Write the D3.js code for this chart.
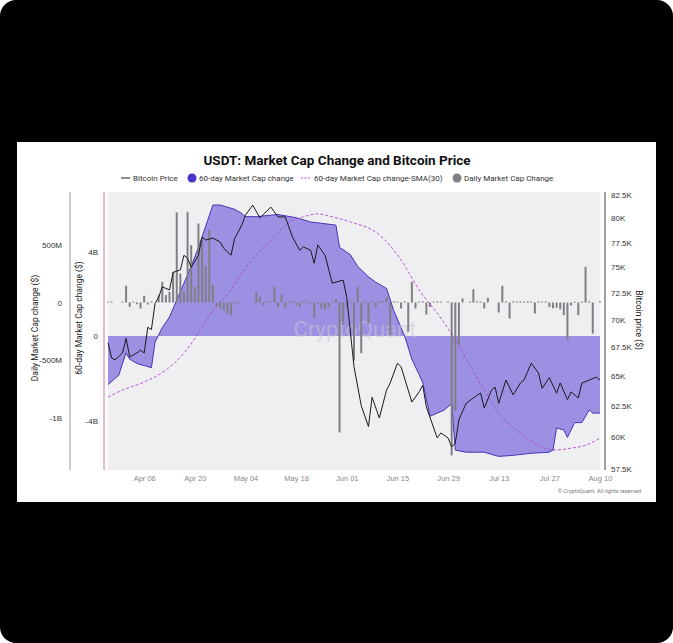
<!DOCTYPE html>
<html>
<head>
<meta charset="utf-8">
<script src="https://cdn.jsdelivr.net/npm/d3@7"></script>
<style>
  html, body { margin: 0; padding: 0; background: #fff; }
  #frame { position: absolute; left: 0; top: 0; width: 673px; height: 643px; background: #000; border-radius: 16px; overflow: hidden; }
  svg { position: absolute; left: 0; top: 0; font-family: Roboto, "Noto Sans", sans-serif; }
</style>
</head>
<body>
<div id="frame"></div>
<script>
// day offsets counted from the first day on the chart (Mar 27)
const startDate = "2024-03-27";

const priceDays = [0,1,2,4,5,6,8,9,10,11,12,13,14,15,17,18,20,21,22,23,25,26,27,29,31,32,34,35,37,38,40,42,45,47,49,51,53,54,56,57,58,60,62,65,66,68,70,72,73,75,77,78,80,81,84,86,87,88,91,92,94,95,96,97,99,101,103,104,106,107,108,110,112,114,115,117,119,120,122,124,125,127,128,130,131,133,135,136];
const priceK = [67.9,66.55,66.4,67.0,68.3,66.65,67.0,67.25,67.0,69.3,69.1,71.5,72.1,73.1,72.8,74.5,74.75,76.2,75.9,75.0,76.2,78.05,77.75,77.95,77.55,76.9,76.2,77.9,79.3,80.35,81.4,80.05,81.2,80.15,80.15,78.05,76.7,77.05,76.7,75.4,77.25,76.2,73.45,73.75,72.1,65.8,62.5,60.8,63.2,61.5,63.8,64.4,66.1,65.8,62.8,63.65,64.2,62.4,59.9,60.3,59.9,59.2,59.5,61.35,62.7,63.15,63.55,62.3,63.8,64.05,62.7,64.65,63.4,64.4,64.65,66.1,65.25,63.95,64.85,63.55,64.4,63.0,63.65,63.15,64.4,64.65,64.9,64.65];

const mcDays = [0,3,4,5,6,8,10,12,13,15,17,19,21,23,25,27,29,31,35,37,38,41,47,52,56,63,64,67,69,72,74,77,79,82,84,87,89,93,95,96,99,104,108,112,117,122,123,124,126,127,129,131,133,134,136];
const mc60B = [-2.3,-1.85,-1.3,-0.8,-1.1,-1.3,-1.4,-1.5,-0.3,0.4,0.9,1.7,2.5,3.3,4.2,5.2,6.2,6.2,6.0,5.8,5.65,5.65,5.75,5.6,5.4,5.25,4.2,3.85,3.3,2.8,2.55,2.25,1.2,0.0,-1.1,-2.2,-3.8,-3.5,-3.2,-5.4,-5.5,-5.5,-5.7,-5.65,-5.55,-5.5,-5.4,-4.35,-4.45,-4.8,-4.1,-4.1,-3.5,-3.65,-3.65];

const smaDays = [0,4,10,16,21,25,29,34,37,41,46,50,54,58,62,67,75,81,86,92,96,100,104,108,114,119,123,128,132,136];
const sma30B = [-2.89,-2.56,-2.18,-1.61,-0.81,0.14,1.23,2.18,2.99,3.84,4.69,5.36,5.64,5.78,5.64,5.40,4.79,3.60,2.18,0.85,-0.19,-1.37,-2.56,-3.65,-4.60,-5.17,-5.40,-5.31,-5.17,-4.83];

// daily market cap change, millions of $, one per day
const dailyM = [
  8, 8, 0, 0, 8, 145, -38, 8, -15, -52,
  58, -17, 10, 0, 64, 180, 64, 93, 267, 783,
  252, 93, 789, 499, 136, 687, 571, 319, 629, 151,
  -38, -52, -67, -96, -110, -20, 8, 0, 0, 0,
  0, 93, 50, -29, 10, 8, 137, -38, 70, -46,
  8, 10, -23, -38, 8, 10, -10, -133, -10, -52,
  -58, -38, 8, 29, -1130, -197, -30, 10, -505, 137,
  -441, 8, -183, 10, -38, 8, 10, 49, -284, 10,
  8, -52, 10, -255, 180, -52, 8, 10, -104, -38,
  8, 10, 8, 0, 8, -1330, -940, -371, 35, 0,
  8, 116, 10, 8, -52, 41, 0, 0, -87, 145,
  10, -139, 10, 8, 10, 8, 10, 8, -96, 10,
  8, 10, -40, -50, -45, -60, -110, -328, -25, 8,
  -110, 8, 310, 10, -270, 0, 10
];

const xTicks = ["2024-04-06","2024-04-20","2024-05-04","2024-05-18","2024-06-01","2024-06-15","2024-06-29","2024-07-13","2024-07-27","2024-08-10"];
const dailyTicks = [500, 0, -500, -1000];
const mcTicks = [4, 0, -4];
const priceTicks = [57.5, 60, 62.5, 65, 67.5, 70, 72.5, 75, 77.5, 80, 82.5];

const parse = d3.utcParse("%Y-%m-%d");
const t0 = parse(startDate);
const day = n => d3.utcDay.offset(t0, n);

const W = 673, H = 643;
const L = 108, R = 600, T = 192, B = 470;

const svg = d3.select("#frame").append("svg").attr("width", W).attr("height", H);

svg.append("rect").attr("x", 17).attr("y", 142).attr("width", 639).attr("height", 360).attr("fill", "#fff");
svg.append("rect").attr("x", L).attr("y", T).attr("width", R - L).attr("height", B - T).attr("fill", "#efeff2");

const x = d3.scaleUtc().domain([day(0), parse("2024-08-10")]).range([L, R]);
const yDaily = d3.scaleLinear().domain([-1000, 500]).range([417.5, 245]);
const yMc = d3.scaleLinear().domain([-4, 4]).range([420.5, 251.5]);
const yPrice = d3.scaleLog().domain([57.5, 82.5]).range([469, 195]);

// 60-day area
const mcData = mcDays.map((d, i) => ({ t: day(d), v: mc60B[i] }));
svg.append("path").datum(mcData)
  .attr("fill", "#9b90e2")
  .attr("d", d3.area().x(d => x(d.t)).y0(yMc(0)).y1(d => yMc(d.v)));
svg.append("path").datum(mcData)
  .attr("fill", "none").attr("stroke", "#4535b5").attr("stroke-width", 1)
  .attr("d", d3.line().x(d => x(d.t)).y(d => yMc(d.v)));

// watermark
svg.append("text").attr("x", 355).attr("y", 337).attr("text-anchor", "middle")
  .attr("font-size", 22).attr("fill", "#c8c8d4").attr("opacity", 0.55).text("CryptoQuant");

// daily bars
svg.append("g").selectAll("rect").data(dailyM).join("rect")
  .attr("x", (d, i) => x(day(i)) - 1)
  .attr("width", 2)
  .attr("y", d => Math.min(yDaily(d), yDaily(0)))
  .attr("height", d => Math.max(1, Math.abs(yDaily(d) - yDaily(0))))
  .attr("fill", "#7f7f85")
  .attr("opacity", d => d === 0 ? 0 : 1);

// SMA dashed
svg.append("path").datum(smaDays.map((d, i) => ({ t: day(d), v: sma30B[i] })))
  .attr("fill", "none").attr("stroke", "#b048c8").attr("stroke-width", 0.9)
  .attr("stroke-dasharray", "3,2")
  .attr("d", d3.line().curve(d3.curveMonotoneX).x(d => x(d.t)).y(d => yMc(d.v)));

// price line
svg.append("path").datum(priceDays.map((d, i) => ({ t: day(d), v: priceK[i] })))
  .attr("fill", "none").attr("stroke", "#1a1a1a").attr("stroke-width", 1)
  .attr("d", d3.line().x(d => x(d.t)).y(d => yPrice(d.v)));

// axes
const fmtDate = d3.utcFormat("%b %d");
const gx = svg.append("g").attr("transform", `translate(0,${B})`)
  .call(d3.axisBottom(x).tickValues(xTicks.map(parse)).tickFormat(fmtDate).tickSize(0).tickPadding(6));
gx.select(".domain").remove();
gx.selectAll("text").attr("font-size", 7.5).attr("fill", "#888");

const fmtDaily = v => v === 0 ? "0" : (Math.abs(v) >= 1000 ? (v / 1000) + "B" : v + "M");
const gd = svg.append("g").attr("transform", "translate(70,0)")
  .call(d3.axisLeft(yDaily).tickValues(dailyTicks).tickFormat(fmtDaily).tickSize(0).tickPadding(8));
gd.select(".domain").attr("d", `M0,${T}V${B}`).attr("stroke", "#999");
gd.selectAll("text").attr("font-size", 8).attr("fill", "#333");

const gm = svg.append("g").attr("transform", "translate(104,0)")
  .call(d3.axisLeft(yMc).tickValues(mcTicks).tickFormat(v => v === 0 ? "0" : v + "B").tickSize(0).tickPadding(6));
gm.select(".domain").attr("d", `M0,${T}V${B}`).attr("stroke", "#c07a96");
gm.selectAll("text").attr("font-size", 8).attr("fill", "#333");

const gp = svg.append("g").attr("transform", "translate(605,0)")
  .call(d3.axisRight(yPrice).tickValues(priceTicks).tickFormat(v => v + "K").tickSize(0).tickPadding(6));
gp.select(".domain").attr("d", `M0,${T}V${B}`).attr("stroke", "#444");
gp.selectAll("text").attr("font-size", 8).attr("fill", "#333");

// axis titles
svg.append("text").attr("transform", "translate(38,328) rotate(-90)").attr("text-anchor", "middle")
  .attr("font-size", 8.5).attr("fill", "#222").text("Daily Market Cap change ($)");
svg.append("text").attr("transform", "translate(82,318) rotate(-90)").attr("text-anchor", "middle")
  .attr("font-size", 8.5).attr("fill", "#222").text("60-day Market Cap change ($)");
svg.append("text").attr("transform", "translate(636,320) rotate(90)").attr("text-anchor", "middle")
  .attr("font-size", 8.5).attr("fill", "#222").text("Bitcoin price ($)");

// title
svg.append("text").attr("x", 337).attr("y", 165).attr("text-anchor", "middle")
  .attr("font-size", 13.5).attr("font-weight", "bold").attr("fill", "#111")
  .text("USDT: Market Cap Change and Bitcoin Price");

// legend
const lg = svg.append("g").attr("font-size", 8).attr("fill", "#333");
lg.append("line").attr("x1", 121).attr("x2", 130).attr("y1", 178).attr("y2", 178).attr("stroke", "#222");
lg.append("text").attr("x", 133).attr("y", 181).text("Bitcoin Price");
lg.append("circle").attr("cx", 192).attr("cy", 178).attr("r", 4.5).attr("fill", "#4a36cc");
lg.append("text").attr("x", 199).attr("y", 181).text("60-day Market Cap change");
lg.append("line").attr("x1", 301).attr("x2", 311).attr("y1", 178).attr("y2", 178)
  .attr("stroke", "#b048c8").attr("stroke-dasharray", "2,1.5");
lg.append("text").attr("x", 314).attr("y", 181).text("60-day Market Cap change-SMA(30)");
lg.append("circle").attr("cx", 457).attr("cy", 178).attr("r", 4.5).attr("fill", "#808086");
lg.append("text").attr("x", 464).attr("y", 181).text("Daily Market Cap Change");

svg.append("text").attr("x", 641).attr("y", 493).attr("text-anchor", "end")
  .attr("font-size", 5.5).attr("fill", "#777").text("© CryptoQuant. All rights reserved");
</script>
</body>
</html>
